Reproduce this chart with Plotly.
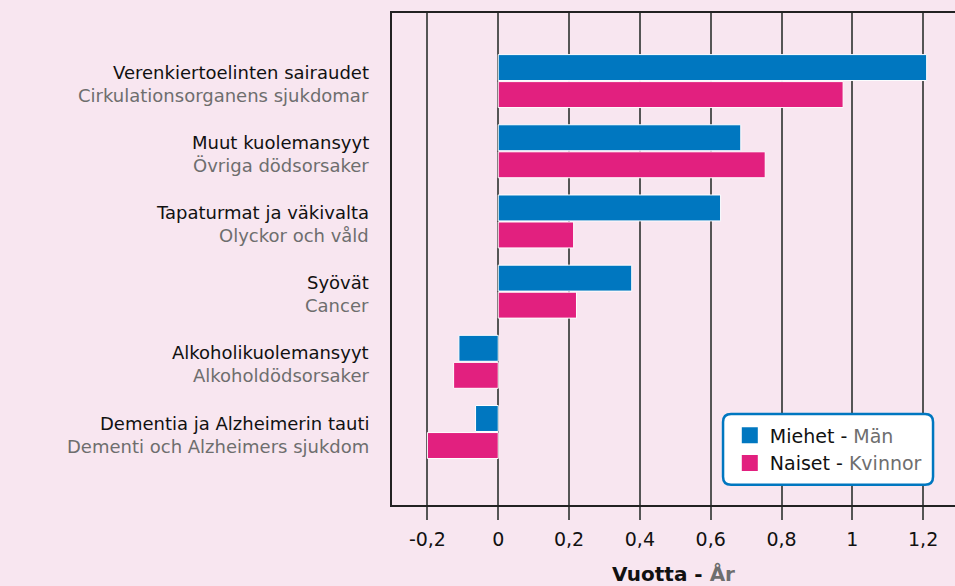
import plotly.graph_objects as go

# Causes of death (Finnish / Swedish)
causes_fi = ['Verenkiertoelinten sairaudet', 'Muut kuolemansyyt', 'Tapaturmat ja väkivalta',
             'Syövät', 'Alkoholikuolemansyyt', 'Dementia ja Alzheimerin tauti']
causes_sv = ['Cirkulationsorganens sjukdomar', 'Övriga dödsorsaker', 'Olyckor och våld',
             'Cancer', 'Alkoholdödsorsaker', 'Dementi och Alzheimers sjukdom']

# change in life expectancy, years
men = [1.21, 0.685, 0.628, 0.377, -0.111, -0.064]
women = [0.974, 0.754, 0.213, 0.221, -0.126, -0.200]

x_ticks = [-0.2, 0, 0.2, 0.4, 0.6, 0.8, 1, 1.2]
x_ticktext = ['-0,2', '0', '0,2', '0,4', '0,6', '0,8', '1', '1,2']

BLUE = '#0077c0'
PINK = '#e2207f'
GREY = '#6e6e6e'
BG = '#f8e6f0'
FONT = 'DejaVu Sans'

fig = go.Figure()
fig.add_trace(go.Bar(y=causes_fi, x=men, orientation='h', showlegend=False,
                     marker=dict(color=BLUE, line=dict(color='white', width=1))))
fig.add_trace(go.Bar(y=causes_fi, x=women, orientation='h', showlegend=False,
                     marker=dict(color=PINK, line=dict(color='white', width=1))))

# legend entries with bigger square swatches
fig.add_trace(go.Scatter(x=[None], y=[None], mode='markers',
                         name=f"Miehet - <span style='color:{GREY}'>Män</span>",
                         marker=dict(symbol='square', size=16, color=BLUE)))
fig.add_trace(go.Scatter(x=[None], y=[None], mode='markers',
                         name=f"Naiset - <span style='color:{GREY}'>Kvinnor</span>",
                         marker=dict(symbol='square', size=16, color=PINK)))

# two-line category labels
for fi, sv in zip(causes_fi, causes_sv):
    fig.add_annotation(x=-0.037, xref='paper', y=fi, yref='y', text=fi,
                       xanchor='right', yanchor='middle', yshift=9, showarrow=False,
                       font=dict(size=18, color='#111'))
    fig.add_annotation(x=-0.037, xref='paper', y=fi, yref='y', text=sv,
                       xanchor='right', yanchor='middle', yshift=-14, showarrow=False,
                       font=dict(size=18, color=GREY))

# rounded legend box
x0, x1, y0, y1 = 0.588, 0.961, 0.041, 0.185
rx, ry = 0.0142, 0.0163
path = (f"M {x0+rx},{y0} L {x1-rx},{y0} Q {x1},{y0} {x1},{y0+ry} "
        f"L {x1},{y1-ry} Q {x1},{y1} {x1-rx},{y1} L {x0+rx},{y1} "
        f"Q {x0},{y1} {x0},{y1-ry} L {x0},{y0+ry} Q {x0},{y0} {x0+rx},{y0} Z")
fig.add_shape(type='path', xref='paper', yref='paper', path=path,
              fillcolor='white', line=dict(color=BLUE, width=2.5), layer='above')

fig.update_layout(
    width=955, height=586,
    margin=dict(l=392, r=0, t=13, b=81),
    paper_bgcolor=BG, plot_bgcolor=BG,
    font=dict(family=FONT, size=19, color='#111'),
    barmode='group', bargap=0.23, bargroupgap=0.04,
    showlegend=True,
    legend=dict(x=0.600, y=0.113, xanchor='left', yanchor='middle',
                bgcolor='rgba(0,0,0,0)', borderwidth=0,
                font=dict(size=19, color='#111'), traceorder='normal',
                itemwidth=30, tracegroupgap=0),
)
fig.update_xaxes(range=[-0.3, 1.29], tickvals=x_ticks, ticktext=x_ticktext,
                 showgrid=True, gridcolor='#555', gridwidth=1.5,
                 zeroline=True, zerolinecolor='#555', zerolinewidth=1.5,
                 ticks='outside', ticklen=13, tickcolor='#555', tickwidth=1.5,
                 ticklabelstandoff=3,
                 showline=True, linecolor='#222', linewidth=1.5, mirror=True,
                 title=dict(text=f"<b>Vuotta - <span style='color:{GREY}'>År</span></b>",
                            font=dict(size=20), standoff=22))
fig.update_yaxes(categoryorder='array', categoryarray=causes_fi,
                 range=[6.04, -0.97], showgrid=False, showticklabels=False,
                 showline=True, linecolor='#222', linewidth=1.5, ticks='')

# no page margin so the figure fills the window exactly
fig.write_html("out.html", config={'displayModeBar': False},
               post_script="document.body.style.margin='0';document.body.style.overflow='hidden';")
